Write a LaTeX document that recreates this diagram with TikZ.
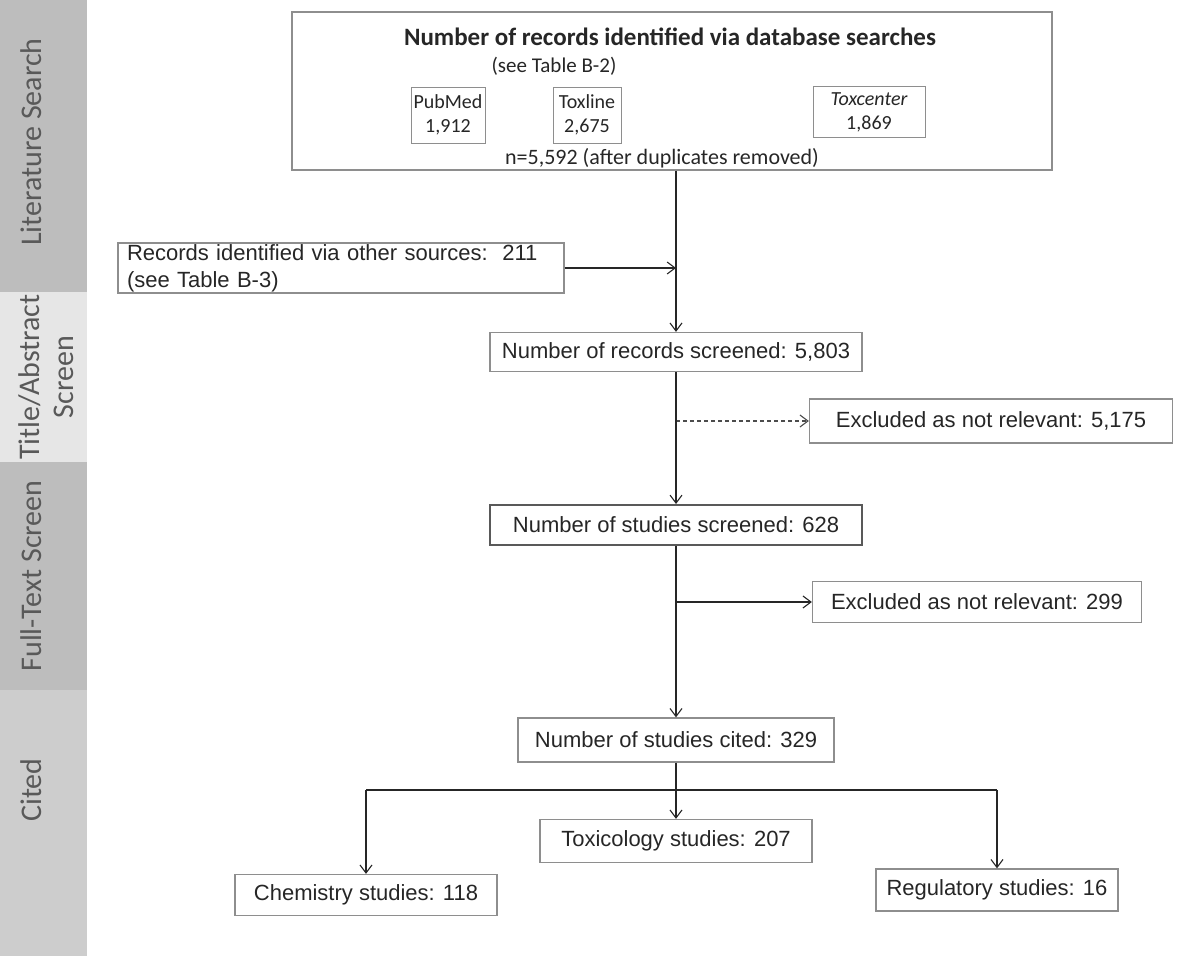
\documentclass[tikz,border=0pt]{standalone}
\usepackage{fontspec}
\setmainfont{Liberation Sans}
\newfontfamily\calfont{Carlito}
\usepackage{tikz}
\usetikzlibrary{positioning,arrows.meta}
\definecolor{inkgray}{HTML}{262626}
\definecolor{framegray}{HTML}{8E8E8E}
\definecolor{banddark}{HTML}{BDBDBD}
\definecolor{bandlight}{HTML}{E6E6E6}
\definecolor{bandmid}{HTML}{CDCDCD}

\begin{document}
\begin{tikzpicture}[x=1pt,y=-1pt,
  flowbox/.style={draw=framegray, line width=1.3pt, inner sep=0pt, minimum height=40pt,
    text=inkgray, font=\fontsize{22}{27}\selectfont},
  dbsub/.style={draw=framegray, line width=1pt, inner sep=2pt, minimum height=56pt,
    align=center, text=inkgray, font=\calfont\fontsize{20}{24}\selectfont},
  bandlabel/.style={rotate=90, align=center, text=black!65,
    font=\calfont\fontsize{30}{34}\selectfont},
  link/.style={draw=inkgray, line width=1.1pt, -{Straight Barb[length=8pt,width=12pt]}}]
\useasboundingbox (0,0) rectangle (1177,956);

% stage bands on the left
\fill[banddark] (0,0) rectangle (87,292);
\fill[bandlight] (0,292) rectangle (87,462);
\fill[banddark] (0,462) rectangle (87,690);
\fill[bandmid] (0,690) rectangle (87,956);
\node[bandlabel] (lbllit) at (31,142) {Literature Search};
\node[bandlabel] (lblta) at (46,377) {Title/Abstract\\Screen};
\node[bandlabel] (lblft) at (31,576) {Full-Text Screen};
\node[bandlabel] (lblcited) at (31,790) {Cited};

% database searches
\node[draw=framegray, line width=1.3pt, minimum width=760pt, minimum height=158pt] (dbsearch) at (672,91) {};
\node[text=inkgray, font=\calfont\bfseries\fontsize{25}{30}\selectfont] (dbtitle) at (670,37)
  {Number of records identified via database searches};
\node[text=inkgray, font=\calfont\fontsize{21}{25}\selectfont] (dbnote) at (554,66) {(see Table B-2)};
\node[dbsub, minimum width=74pt] (pubmed) at (448,115) {PubMed\\1,912};
\node[dbsub, minimum width=68pt] (toxline) at (587,115) {Toxline\\2,675};
\node[dbsub, minimum width=112pt, minimum height=51pt] (toxcenter) at (869,112) {\itshape Toxcenter\\1,869};
\node[text=inkgray, font=\calfont\fontsize{22}{26}\selectfont] (dbtotal) at (662,158)
  {n=5,592 (after duplicates removed)};

\node[flowbox, minimum width=446pt, minimum height=50pt, inner xsep=9pt, text width=428pt, align=left] (othersrc) at (341,268)
  {Records identified via other sources:\ \ 211\\(see Table B-3)};

% screening steps
\node[flowbox, minimum width=372pt, minimum height=39pt] (screened) at (676,352) {Number of records screened: 5,803};
\node[flowbox, minimum width=363pt, minimum height=44pt] (exclta) at (991,421) {Excluded as not relevant: 5,175};
\node[flowbox, draw=black!65, line width=2pt, minimum width=372pt] (fulltext) at (676,525) {Number of studies screened: 628};
\node[flowbox, minimum width=329pt, minimum height=41pt] (exclfull) at (977,602) {Excluded as not relevant: 299};
\node[flowbox, minimum width=316pt, minimum height=44pt] (cited) at (676,740) {Number of studies cited: 329};

% cited studies
\node[flowbox, minimum width=272pt, minimum height=43pt] (toxstud) at (676,841) {Toxicology studies: 207};
\node[flowbox, minimum width=262pt, minimum height=41pt] (chemstud) at (366,895) {Chemistry studies: 118};
\node[flowbox, minimum width=242pt, minimum height=42pt] (regstud) at (997,890) {Regulatory studies: 16};
\coordinate (split) at (676,790);

\draw[link] (dbsearch.south -| screened.north) -- (screened.north);
\draw[link] (othersrc.east) -- (othersrc.east -| screened.north);
\draw[link, draw=black!70, dash pattern=on 4pt off 3pt] (exclta.west -| screened.south) -- (exclta.west);
\draw[link] (screened.south) -- (fulltext.north);
\draw[link] (fulltext.south) -- (cited.north);
\draw[link] (exclfull.west -| fulltext.south) -- (exclfull.west);
\draw[link] (cited.south) -- (toxstud.north);
\draw[draw=inkgray, line width=1.1pt] (chemstud.north |- split) -- (regstud.north |- split);
\draw[link] (chemstud.north |- split) -- (chemstud.north);
\draw[link] (regstud.north |- split) -- (regstud.north);
\end{tikzpicture}
\end{document}
